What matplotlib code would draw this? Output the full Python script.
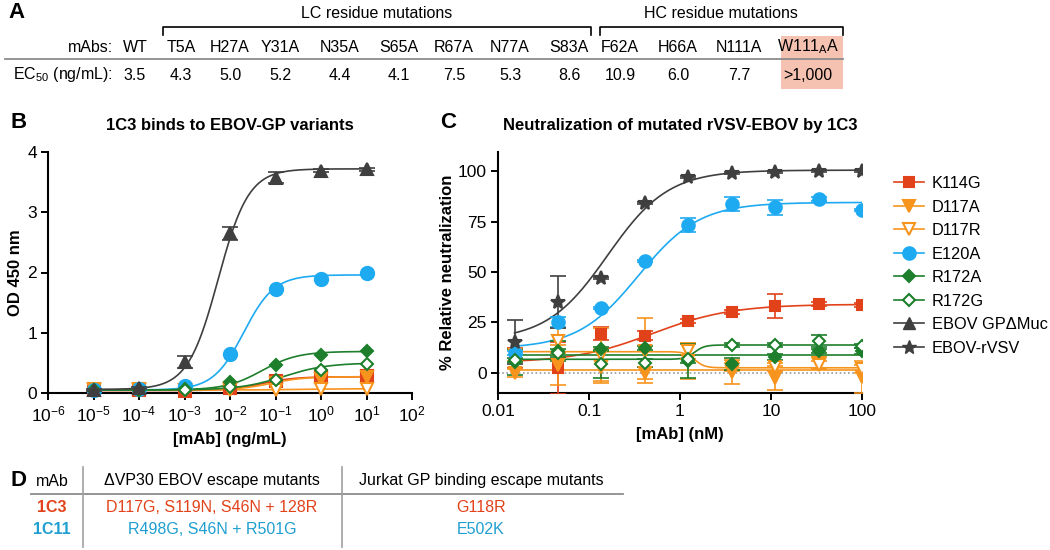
import numpy as np
import matplotlib
matplotlib.use('Agg')
import matplotlib.pyplot as plt
from matplotlib.lines import Line2D
from matplotlib.patches import Rectangle
from matplotlib.ticker import LogFormatterMathtext, NullLocator

plt.rcParams['font.family'] = ['Liberation Sans', 'DejaVu Sans']
plt.rcParams['mathtext.default'] = 'regular'

# ---- panel A table
mabs = ['WT', 'T5A', 'H27A', 'Y31A', 'N35A', 'S65A', 'R67A', 'N77A', 'S83A',
        'F62A', 'H66A', 'N111A', 'W111$_{A}$A']
ec50 = ['3.5', '4.3', '5.0', '5.2', '4.4', '4.1', '7.5', '5.3', '8.6',
        '10.9', '6.0', '7.7', '>1,000']

# ---- panel B : ELISA, OD 450 nm
b_conc = [1e-5, 1e-4, 1e-3, 1e-2, 1e-1, 1, 10]
b_k114g = [0.05, 0.05, 0.03, 0.08, 0.20, 0.27, 0.28]
b_d117a = [0.06, 0.06, 0.05, 0.07, 0.16, 0.24, 0.27]
b_d117r = [0.05, 0.05, 0.05, 0.05, 0.05, 0.07, 0.07]
b_e120a = [0.05, 0.06, 0.12, 0.65, 1.72, 1.89, 2.00]
b_r172a = [0.05, 0.05, 0.06, 0.18, 0.46, 0.63, 0.69]
b_r172g = [0.05, 0.05, 0.05, 0.10, 0.22, 0.38, 0.48]
b_gpmuc = [0.05, 0.08, 0.52, 2.65, 3.57, 3.69, 3.71]
b_gpmuc_err = [0.01, 0.02, 0.10, 0.11, 0.09, 0.02, 0.02]

# fitted curves: (low plateau, high plateau, EC50, hill)
b_fit_k114g = (0.04, 0.27, 0.05, 1.2)
b_fit_d117a = (0.05, 0.27, 0.08, 1.2)
b_fit_d117r = (0.05, 0.07, 0.3, 1.0)
b_fit_e120a = (0.05, 1.96, 0.02, 1.3)
b_fit_r172a = (0.05, 0.69, 0.05, 1.1)
b_fit_r172g = (0.05, 0.50, 0.15, 0.9)
b_fit_gpmuc = (0.06, 3.72, 5.5e-3, 1.3)

# ---- panel C : neutralization
c_conc = [0.0152, 0.0457, 0.137, 0.412, 1.23, 3.70, 11.1, 33.3, 100]
c_k114g = [7.5, 2.5, 19.5, 18.5, 25.5, 30, 33, 34, 33.5]
c_k114g_err = [5, 13, 3, 2, 1, 1, 6, 1, 1]
c_d117a = [0, 4, 3, 0, 6, 0.5, -2.5, 5, -2]
c_d117a_err = [2, 10, 8, 3, 9, 6, 6, 3, 8]
c_d117r = [9, 16, 9, 11, 11, 3, 3, 4, 2]
c_d117r_err = [3, 6, 13, 16, 4, 2, 2, 2, 2]
c_e120a = [10, 25, 32, 55.5, 73.5, 83.5, 82, 86, 80.7]
c_e120a_err = [1, 2.5, 0.5, 0.5, 3.5, 3.5, 3.5, 1, 0.5]
c_r172a = [5.5, 11, 12, 12.5, 6, 4.5, 8, 11, 11]
c_r172a_err = [6.5, 5, 1, 1, 8.5, 3, 1.5, 1, 1.5]
c_r172g = [6.5, 10, 4.5, 5, 7, 14, 14, 16, 13.5]
c_r172g_err = [1, 2, 7, 2, 2, 1, 1, 3, 1]
c_rvsv = [15.3, 35, 47, 84, 97, 99, 99.5, 100, 100]
c_rvsv_err = [11, 13, 0.5, 0.5, 0.5, 0.5, 0.5, 0.5, 0.5]

c_fit_k114g = (5, 34, 0.5, 1.0)
c_fit_d117a = (1.5, 1.5, 1.0, 1.0)
c_fit_d117r = (10.5, 2.5, 1.45, 8)
c_fit_e120a = (12, 84.5, 0.35, 1.3)
c_fit_r172a = (9, 9, 1.0, 1.0)
c_fit_r172g = (6.7, 13.8, 1.45, 8)
c_fit_rvsv = (16, 100.5, 0.16, 1.3)

# ---- panel D
d_mabs = ['1C3', '1C11']
d_vp30 = ['D117G, S119N, S46N + 128R', 'R498G, S46N + R501G']
d_jurkat = ['G118R', 'E502K']

red = '#E2421A'
orange = '#F7941E'
blue = '#1EAAF1'
green = '#1D7F2C'
gray = '#3F3F3F'
d_colors = [red, '#1E9FD0']

W, H = 1050, 550
fig = plt.figure(figsize=(W / 100, H / 100), dpi=100)


def ftext(x, y, s, **kw):
    fig.text(x / W, 1 - y / H, s, **kw)


def fline(xs, ys, **kw):
    fig.add_artist(Line2D([x / W for x in xs], [1 - y / H for y in ys],
                          transform=fig.transFigure, **kw))


def px_axes(x0, y0, x1, y1):
    return fig.add_axes([x0 / W, 1 - y1 / H, (x1 - x0) / W, (y1 - y0) / H])


def logistic(x, p):
    lo, hi, ec, h = p
    return lo + (hi - lo) / (1 + (ec / x) ** h)


# ================= A
fs = 11.5
ftext(8, 13, 'A', fontsize=16, fontweight='bold', va='center')
ftext(377, 13, 'LC residue mutations', fontsize=fs, ha='center', va='center')
ftext(721, 13, 'HC residue mutations', fontsize=fs, ha='center', va='center')
fline([163, 163, 591, 591], [35, 27, 27, 35], color='black', lw=1.2)
fline([600, 600, 843, 843], [35, 27, 27, 35], color='black', lw=1.2)
fig.add_artist(Rectangle((781 / W, 1 - 89 / H), 62 / W, 53 / H,
                         transform=fig.transFigure, facecolor='#F5C2B1',
                         edgecolor='none', zorder=0))
fline([5, 843], [59, 59], color='#8C8C8C', lw=1.3)
col_x = [135, 181, 230, 280, 340, 399, 454, 510, 569, 620, 678, 739, 808]
ftext(113, 47, 'mAbs:', fontsize=fs, ha='right', va='center')
ftext(113, 75, 'EC$_{50}$ (ng/mL):', fontsize=fs, ha='right', va='center')
for x, m, v in zip(col_x, mabs, ec50):
    ftext(x, 47, m, fontsize=fs, ha='center', va='center')
    ftext(x, 75, v, fontsize=fs, ha='center', va='center')

# ================= B
axb = px_axes(48, 152, 412, 393)
b_series = [
    ('K114G', b_k114g, b_fit_k114g, red, 's', red),
    ('D117A', b_d117a, b_fit_d117a, orange, 'v', orange),
    ('D117R', b_d117r, b_fit_d117r, orange, 'v', 'white'),
    ('E120A', b_e120a, b_fit_e120a, blue, 'o', blue),
    ('R172A', b_r172a, b_fit_r172a, green, 'D', green),
    ('R172G', b_r172g, b_fit_r172g, green, 'D', 'white'),
    ('EBOV GPΔMuc', b_gpmuc, b_fit_gpmuc, gray, '^', gray),
]
msize = {'s': 8, 'v': 8.5, 'o': 9.5, 'D': 6.5, '^': 9, '*': 11}
xb = np.logspace(-5, 1, 300)
for name, vals, fit, col, mk, fc in b_series:
    axb.plot(xb, logistic(xb, fit), color=col, lw=1.2, zorder=2)
    axb.plot(b_conc, vals, ls='none', marker=mk, ms=msize[mk], color=col,
             mfc=fc, mec=col, mew=1.5, clip_on=False, zorder=3)
axb.errorbar(b_conc, b_gpmuc, yerr=b_gpmuc_err, fmt='none', ecolor=gray,
             elinewidth=1.2, capsize=6, capthick=1.2, zorder=3)
axb.set_xscale('log')
axb.set_xlim(1e-6, 1e2)
axb.set_ylim(0, 4)
axb.set_xticks([10.0 ** k for k in range(-6, 3)])
axb.xaxis.set_major_formatter(LogFormatterMathtext())
axb.xaxis.set_minor_locator(NullLocator())
axb.set_yticks([0, 1, 2, 3, 4])
axb.set_title('1C3 binds to EBOV-GP variants', fontsize=12, fontweight='bold',
              pad=16)
axb.set_ylabel('OD 450 nm', fontsize=12, fontweight='bold')
axb.yaxis.set_label_coords(-0.068, 0.5)
axb.set_xlabel('[mAb] (ng/mL)', fontsize=12, fontweight='bold', labelpad=6)
ftext(10, 122, 'B', fontsize=16, fontweight='bold', va='center')

# ================= C
axc = px_axes(498, 152, 862, 393)
c_series = [
    ('K114G', c_k114g, c_k114g_err, c_fit_k114g, red, 's', red),
    ('D117A', c_d117a, c_d117a_err, c_fit_d117a, orange, 'v', orange),
    ('D117R', c_d117r, c_d117r_err, c_fit_d117r, orange, 'v', 'white'),
    ('E120A', c_e120a, c_e120a_err, c_fit_e120a, blue, 'o', blue),
    ('R172A', c_r172a, c_r172a_err, c_fit_r172a, green, 'D', green),
    ('R172G', c_r172g, c_r172g_err, c_fit_r172g, green, 'D', 'white'),
    ('EBOV-rVSV', c_rvsv, c_rvsv_err, c_fit_rvsv, gray, '*', gray),
]
axc.axhline(0, color='#9A9A9A', lw=1.2, ls=(0, (1, 1.5)), zorder=1)
xc = np.logspace(np.log10(c_conc[0]), 2, 400)
for name, vals, err, fit, col, mk, fc in c_series:
    axc.plot(xc, logistic(xc, fit), color=col, lw=1.2, zorder=2)
    axc.errorbar(c_conc, vals, yerr=err, fmt='none', ecolor=col,
                 elinewidth=1.2, capsize=6, capthick=1.2, zorder=3)
    axc.plot(c_conc, vals, ls='none', marker=mk, ms=msize[mk] - 0.5,
             color=col, mfc=fc, mec=col, mew=1.5, zorder=4)
axc.set_xscale('log')
axc.set_xlim(0.01, 100)
axc.set_ylim(-10, 109.5)
axc.set_xticks([0.01, 0.1, 1, 10, 100])
axc.set_xticklabels(['0.01', '0.1', '1', '10', '100'])
axc.xaxis.set_minor_locator(NullLocator())
axc.set_yticks([0, 25, 50, 75, 100])
axc.set_title('Neutralization of mutated rVSV-EBOV by 1C3', fontsize=12,
              fontweight='bold', pad=16)
axc.set_ylabel('% Relative neutralization', fontsize=12, fontweight='bold')
axc.yaxis.set_label_coords(-0.118, 0.5)
axc.set_xlabel('[mAb] (nM)', fontsize=12, fontweight='bold', labelpad=6)
ftext(440, 122, 'C', fontsize=16, fontweight='bold', va='center')

for ax in (axb, axc):
    for s in ('top', 'right'):
        ax.spines[s].set_visible(False)
    for s in ('left', 'bottom'):
        ax.spines[s].set_linewidth(1.5)
    ax.tick_params(direction='out', length=5, width=1.4, pad=3,
                   labelsize=12.5)

# legend
handles = []
for name, vals, fit, col, mk, fc in b_series[:6]:
    handles.append(Line2D([], [], color=col, lw=1.2, marker=mk,
                          ms=msize[mk] - 0.5, mfc=fc, mec=col, mew=1.5,
                          label=name))
handles.append(Line2D([], [], color=gray, lw=1.2, marker='^', ms=8.5,
                      label='EBOV GPΔMuc'))
handles.append(Line2D([], [], color=gray, lw=1.2, marker='*', ms=10.5,
                      label='EBOV-rVSV'))
fig.legend(handles=handles, loc='upper left',
           bbox_to_anchor=(894 / W, 1 - 176 / H), frameon=False,
           fontsize=11.8, handlelength=1.8, handletextpad=0.5,
           labelspacing=0.52, borderpad=0, borderaxespad=0)

# ================= D
fsd = 11.5
ftext(10, 480, 'D', fontsize=16, fontweight='bold', va='center')
dcol = [52, 212, 481]
ftext(dcol[0], 481, 'mAb', fontsize=fsd, ha='center', va='center')
ftext(dcol[1], 481, 'ΔVP30 EBOV escape mutants', fontsize=fsd, ha='center',
      va='center')
ftext(dcol[2], 481, 'Jurkat GP binding escape mutants', fontsize=fsd,
      ha='center', va='center')
fline([31, 623], [494, 494], color='#8C8C8C', lw=1.3)
fline([83, 83], [467, 547], color='#A0A0A0', lw=1.2)
fline([342, 342], [467, 547], color='#A0A0A0', lw=1.2)
for i, (m, v, j) in enumerate(zip(d_mabs, d_vp30, d_jurkat)):
    y = 508 + i * 21
    ftext(dcol[0], y, m, fontsize=fsd, ha='center', va='center',
          color=d_colors[i], fontweight='bold')
    ftext(dcol[1], y, v, fontsize=fsd, ha='center', va='center',
          color=d_colors[i])
    ftext(dcol[2], y, j, fontsize=fsd, ha='center', va='center',
          color=d_colors[i])

fig.savefig('out.png', dpi=100)
